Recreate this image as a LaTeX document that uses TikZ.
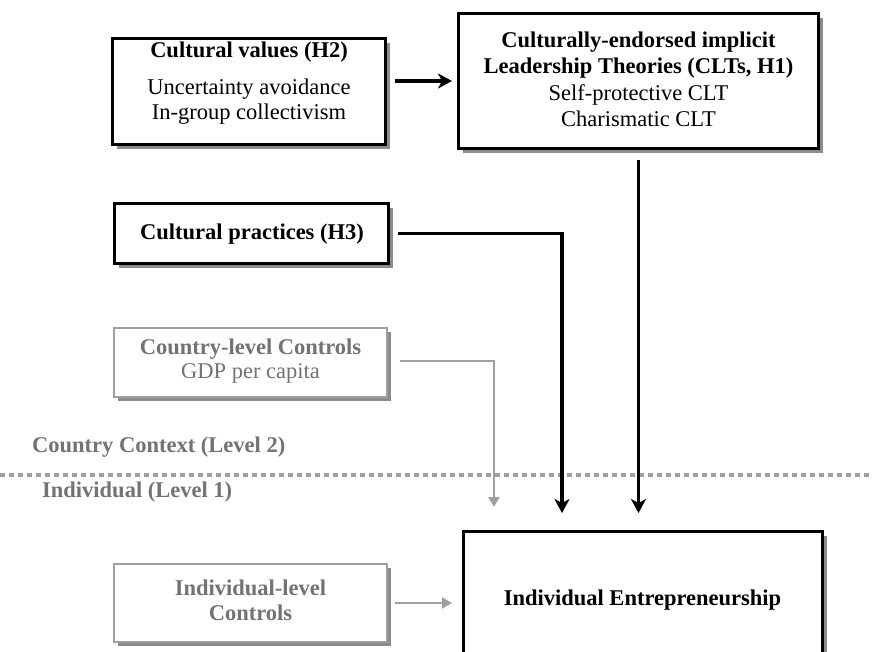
\documentclass[tikz,border=0pt]{standalone}
\usepackage{fontspec}
\setmainfont{Liberation Serif}
\usetikzlibrary{arrows.meta,shadows}
\definecolor{txtgray}{RGB}{115,115,115}
\definecolor{linegray}{RGB}{160,160,160}
\definecolor{shadgray}{RGB}{140,140,140}
\begin{document}
\begin{tikzpicture}[x=1pt,y=-1pt,
  blackbox/.style={draw=black, line width=3pt, fill=white, inner sep=0pt,
    drop shadow={shadow xshift=4.5pt, shadow yshift=-4.5pt, fill=shadgray, opacity=1}},
  graybox/.style={draw=linegray, line width=2.2pt, fill=white, inner sep=0pt,
    drop shadow={shadow xshift=4pt, shadow yshift=-4pt, fill=shadgray, opacity=1}},
  reg/.style={font=\fontsize{22.5}{25}\selectfont, anchor=base, inner sep=0pt},
  bld/.style={font=\fontsize{22.5}{25}\selectfont\bfseries, anchor=base, inner sep=0pt},
  gtxt/.style={text=txtgray},
  blackarrow/.style={draw=black, line width=3.2pt, -{Stealth[length=14pt,width=15pt,inset=4pt]}},
  grayarrow/.style={draw=linegray, line width=2.4pt, -{Triangle[length=10pt,width=11pt]}},
  levelline/.style={draw=linegray, line width=4pt, dash pattern=on 5pt off 4pt}
]
\fill[white] (0,0) rectangle (873,652);
\useasboundingbox (0,0) rectangle (873,652);
\clip (0,0) rectangle (873,652);

% boxes
\node[blackbox, minimum width=273pt, minimum height=106pt] (cv) at (249,91.5) {};
\node[blackbox, minimum width=360pt, minimum height=135pt] (clt) at (638.5,81) {};
\node[blackbox, minimum width=274pt, minimum height=60pt] (cp) at (251.5,233.5) {};
\node[graybox, minimum width=273pt, minimum height=69pt] (cc) at (250.5,362.5) {};
\node[graybox, minimum width=273pt, minimum height=78pt] (ic) at (250.5,603) {};
\node[blackbox, minimum width=359pt, minimum height=160pt] (ie) at (643,611.5) {};

% texts
\node[bld] (cv1) at (249,58) {Cultural values (H2)};
\node[reg] (cv2) at (249,95) {Uncertainty avoidance};
\node[reg] (cv3) at (249,120) {In-group collectivism};

\node[bld] (clt1) at (638.5,48) {Culturally-endorsed implicit};
\node[bld] (clt2) at (638.5,74) {Leadership Theories (CLTs, H1)};
\node[reg] (clt3) at (638.5,101) {Self-protective CLT};
\node[reg] (clt4) at (638.5,127) {Charismatic CLT};

\node[bld] (cp1) at (252,240) {Cultural practices (H3)};

\node[bld, gtxt] (cc1) at (250.5,355) {Country-level Controls};
\node[reg, gtxt] (cc2) at (250.5,378) {GDP per capita};

\node[bld, gtxt] (ic1) at (250.5,595) {Individual-level};
\node[bld, gtxt] (ic2) at (250.5,620) {Controls};

\node[bld] (ie1) at (642.5,605) {Individual Entrepreneurship};

% level separator
\coordinate (dl) at (0,475);
\coordinate (dr) at (873,475);
\draw[levelline] (dl) -- (dr);
\node[bld, gtxt, anchor=base west] (lv2) at (32,452) {Country Context (Level 2)};
\node[bld, gtxt, anchor=base west] (lv1) at (42,497) {Individual (Level 1)};

% connectors
\draw[blackarrow, shorten <=8pt, shorten >=5pt] (cv.east |- clt.west) -- (clt.west);
\draw[blackarrow, shorten <=8pt, shorten >=17pt] (cp.east) -| ([xshift=-81pt]ie.north);
\draw[blackarrow, shorten <=10pt, shorten >=17pt] (clt.south) -- (clt.south |- ie.north);
\draw[grayarrow, shorten <=12pt, shorten >=23pt] ([yshift=1.5pt]cc.east) -| ([xshift=-149pt]ie.north);
\draw[grayarrow, shorten <=7pt, shorten >=10pt] (ic.east) -- (ic.east -| ie.west);
\end{tikzpicture}
\end{document}
